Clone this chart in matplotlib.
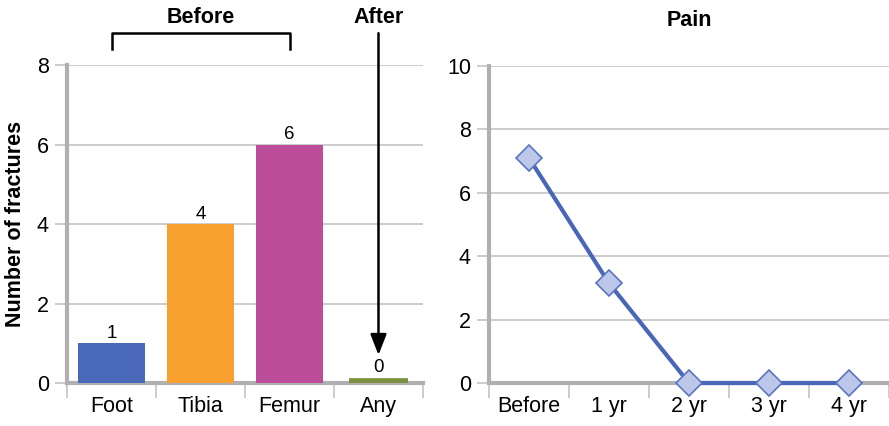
import numpy as np
import matplotlib.pyplot as plt
from matplotlib.patches import FancyArrowPatch

# fracture counts by site
sites = ['Foot', 'Tibia', 'Femur', 'Any']
fractures = [1, 4, 6, 0]
bar_colors = ['#4a69b8', '#f7a030', '#bb4d9a', '#7a9040']

# pain score over time
times = ['Before', '1 yr', '2 yr', '3 yr', '4 yr']
pain = [7.1, 3.15, 0, 0, 0]

plt.rcParams['font.family'] = ['Liberation Sans', 'DejaVu Sans']
GRID = '#c4c4c4'
SPINE = '#b0b0b0'
FS = 15.5


def style_axes(ax, n, ymax, step):
    ax.set_xlim(-0.5, n - 0.5)
    ax.set_ylim(0, ymax)
    ax.set_yticks(np.arange(0, ymax + 0.1, step))
    ax.yaxis.grid(True, color=GRID, linewidth=1.2, zorder=0)
    ax.set_axisbelow(True)
    for s in ['top', 'right']:
        ax.spines[s].set_visible(False)
    for s in ['left', 'bottom']:
        ax.spines[s].set_color(SPINE)
        ax.spines[s].set_linewidth(3)
        ax.spines[s].set_zorder(1)
    ax.tick_params(axis='y', length=9, width=1.2, color=GRID, labelsize=FS, pad=4)
    ax.set_xticks(np.arange(n))
    ax.set_xticks(np.arange(n + 1) - 0.5, minor=True)
    ax.tick_params(axis='x', which='major', length=0, labelsize=FS, pad=9)
    ax.tick_params(axis='x', which='minor', length=11, width=1.2, color=GRID)


fig = plt.figure(figsize=(8.89, 4.26), dpi=100)
ax1 = fig.add_axes([0.0754, 0.1009, 0.4004, 0.7465])
ax2 = fig.add_axes([0.550, 0.1009, 0.450, 0.7441])

# left: bar chart; zero-height bars get a thick edge so they still show
style_axes(ax1, len(sites), 8, 2)
x = np.arange(len(sites))
for xi, v, c in zip(x, fractures, bar_colors):
    if v == 0:
        ax1.bar(xi, v, width=0.66, color=c, edgecolor=c, linewidth=7,
                joinstyle='miter', zorder=2)
    else:
        ax1.bar(xi, v, width=0.75, color=c, linewidth=0, zorder=2)
    ax1.text(xi, v + 0.03 + (0.14 if v == 0 else 0), str(v),
             ha='center', va='bottom', fontsize=13.5)
ax1.set_xticklabels(sites)
ax1.set_ylabel('Number of fractures', fontsize=15.5, fontweight='bold', labelpad=8)

# bracket over the "before" sites
tr = ax1.get_xaxis_transform()
ax1.plot([0, 0, 2, 2], [1.05, 1.10, 1.10, 1.05], color='black', lw=1.8,
         transform=tr, clip_on=False)
ax1.text(1, 1.148, 'Before', ha='center', va='center', fontsize=FS,
         fontweight='bold', transform=tr)
ax1.text(3, 1.148, 'After', ha='center', va='center', fontsize=FS,
         fontweight='bold', transform=tr)
arrow = FancyArrowPatch((3, 1.10), (3, 0.088), transform=tr,
                        arrowstyle='-|>,head_length=0.9,head_width=0.35',
                        color='black', lw=1.8, mutation_scale=14,
                        shrinkA=0, shrinkB=0, clip_on=False)
ax1.add_patch(arrow)

# right: pain score line
style_axes(ax2, len(times), 10, 2)
ax2.plot(np.arange(len(times)), pain, color='#4a66b8', lw=3, marker='D',
         markersize=13, markerfacecolor='#bcc7ea', markeredgecolor='#5a74c4',
         markeredgewidth=1.2, clip_on=False, zorder=3)
ax2.set_xticklabels(times)
ax2.set_title('Pain', fontsize=FS, fontweight='bold', pad=29)

fig.savefig('out.png', dpi=100)
